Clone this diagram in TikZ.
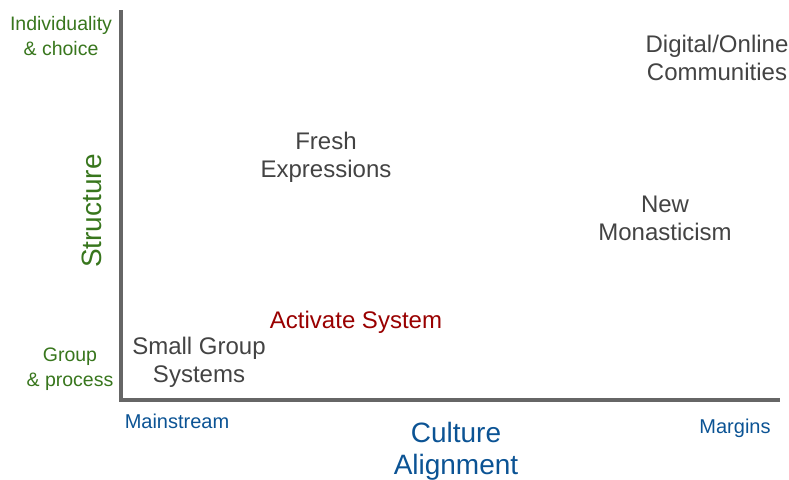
\documentclass[tikz,border=0pt]{standalone}
\usepackage{fontspec}
\setmainfont{Liberation Sans}
\definecolor{axisgrey}{HTML}{666666}
\definecolor{txtgrey}{HTML}{434343}
\definecolor{lblgreen}{HTML}{38761D}
\definecolor{lblblue}{HTML}{0B5394}
\definecolor{lblred}{HTML}{990000}
\begin{document}
\begin{tikzpicture}[x=1pt,y=-1pt,
  axisline/.style={draw=axisgrey,line width=3.5pt},
  item/.style={text=txtgrey,font=\fontsize{24}{28}\selectfont,align=center,inner sep=0pt},
  greenlbl/.style={text=lblgreen,font=\fontsize{19.5}{25}\selectfont,align=center,inner sep=0pt},
  bluelbl/.style={text=lblblue,font=\fontsize{20}{24}\selectfont,align=center,inner sep=0pt},
  bigblue/.style={text=lblblue,font=\fontsize{28}{32}\selectfont,align=center,inner sep=0pt},
  biggreen/.style={text=lblgreen,font=\fontsize{28}{32}\selectfont,inner sep=0pt}]
\useasboundingbox (0,0) rectangle (789,479);
\coordinate (top) at (121,12);
\coordinate (origin) at (121,400);
\coordinate (right) at (778,400);
\draw[axisline,line cap=rect] (top) -- (origin) -- (right);
\node[greenlbl] (indiv) at (61,36) {Individuality\\\& choice};
\node[greenlbl] (group) at (70,369) {Group\\\& process};
\node[biggreen,rotate=90] (struct) at (92,211) {Structure};
\node[bluelbl] (main) at (177,421) {Mainstream};
\node[bluelbl] (marg) at (735,428) {Margins};
\node[bigblue] (cult) at (456,451) {Culture\\Alignment};
\node[item] (digital) at (717,58) {Digital/Online\\Communities};
\node[item] (fresh) at (326,157) {Fresh\\Expressions};
\node[item] (newmon) at (665,218) {New\\Monasticism};
\node[item,text=lblred] (activate) at (356,322) {Activate System};
\node[item] (small) at (199,362) {Small Group\\Systems};
\end{tikzpicture}
\end{document}
